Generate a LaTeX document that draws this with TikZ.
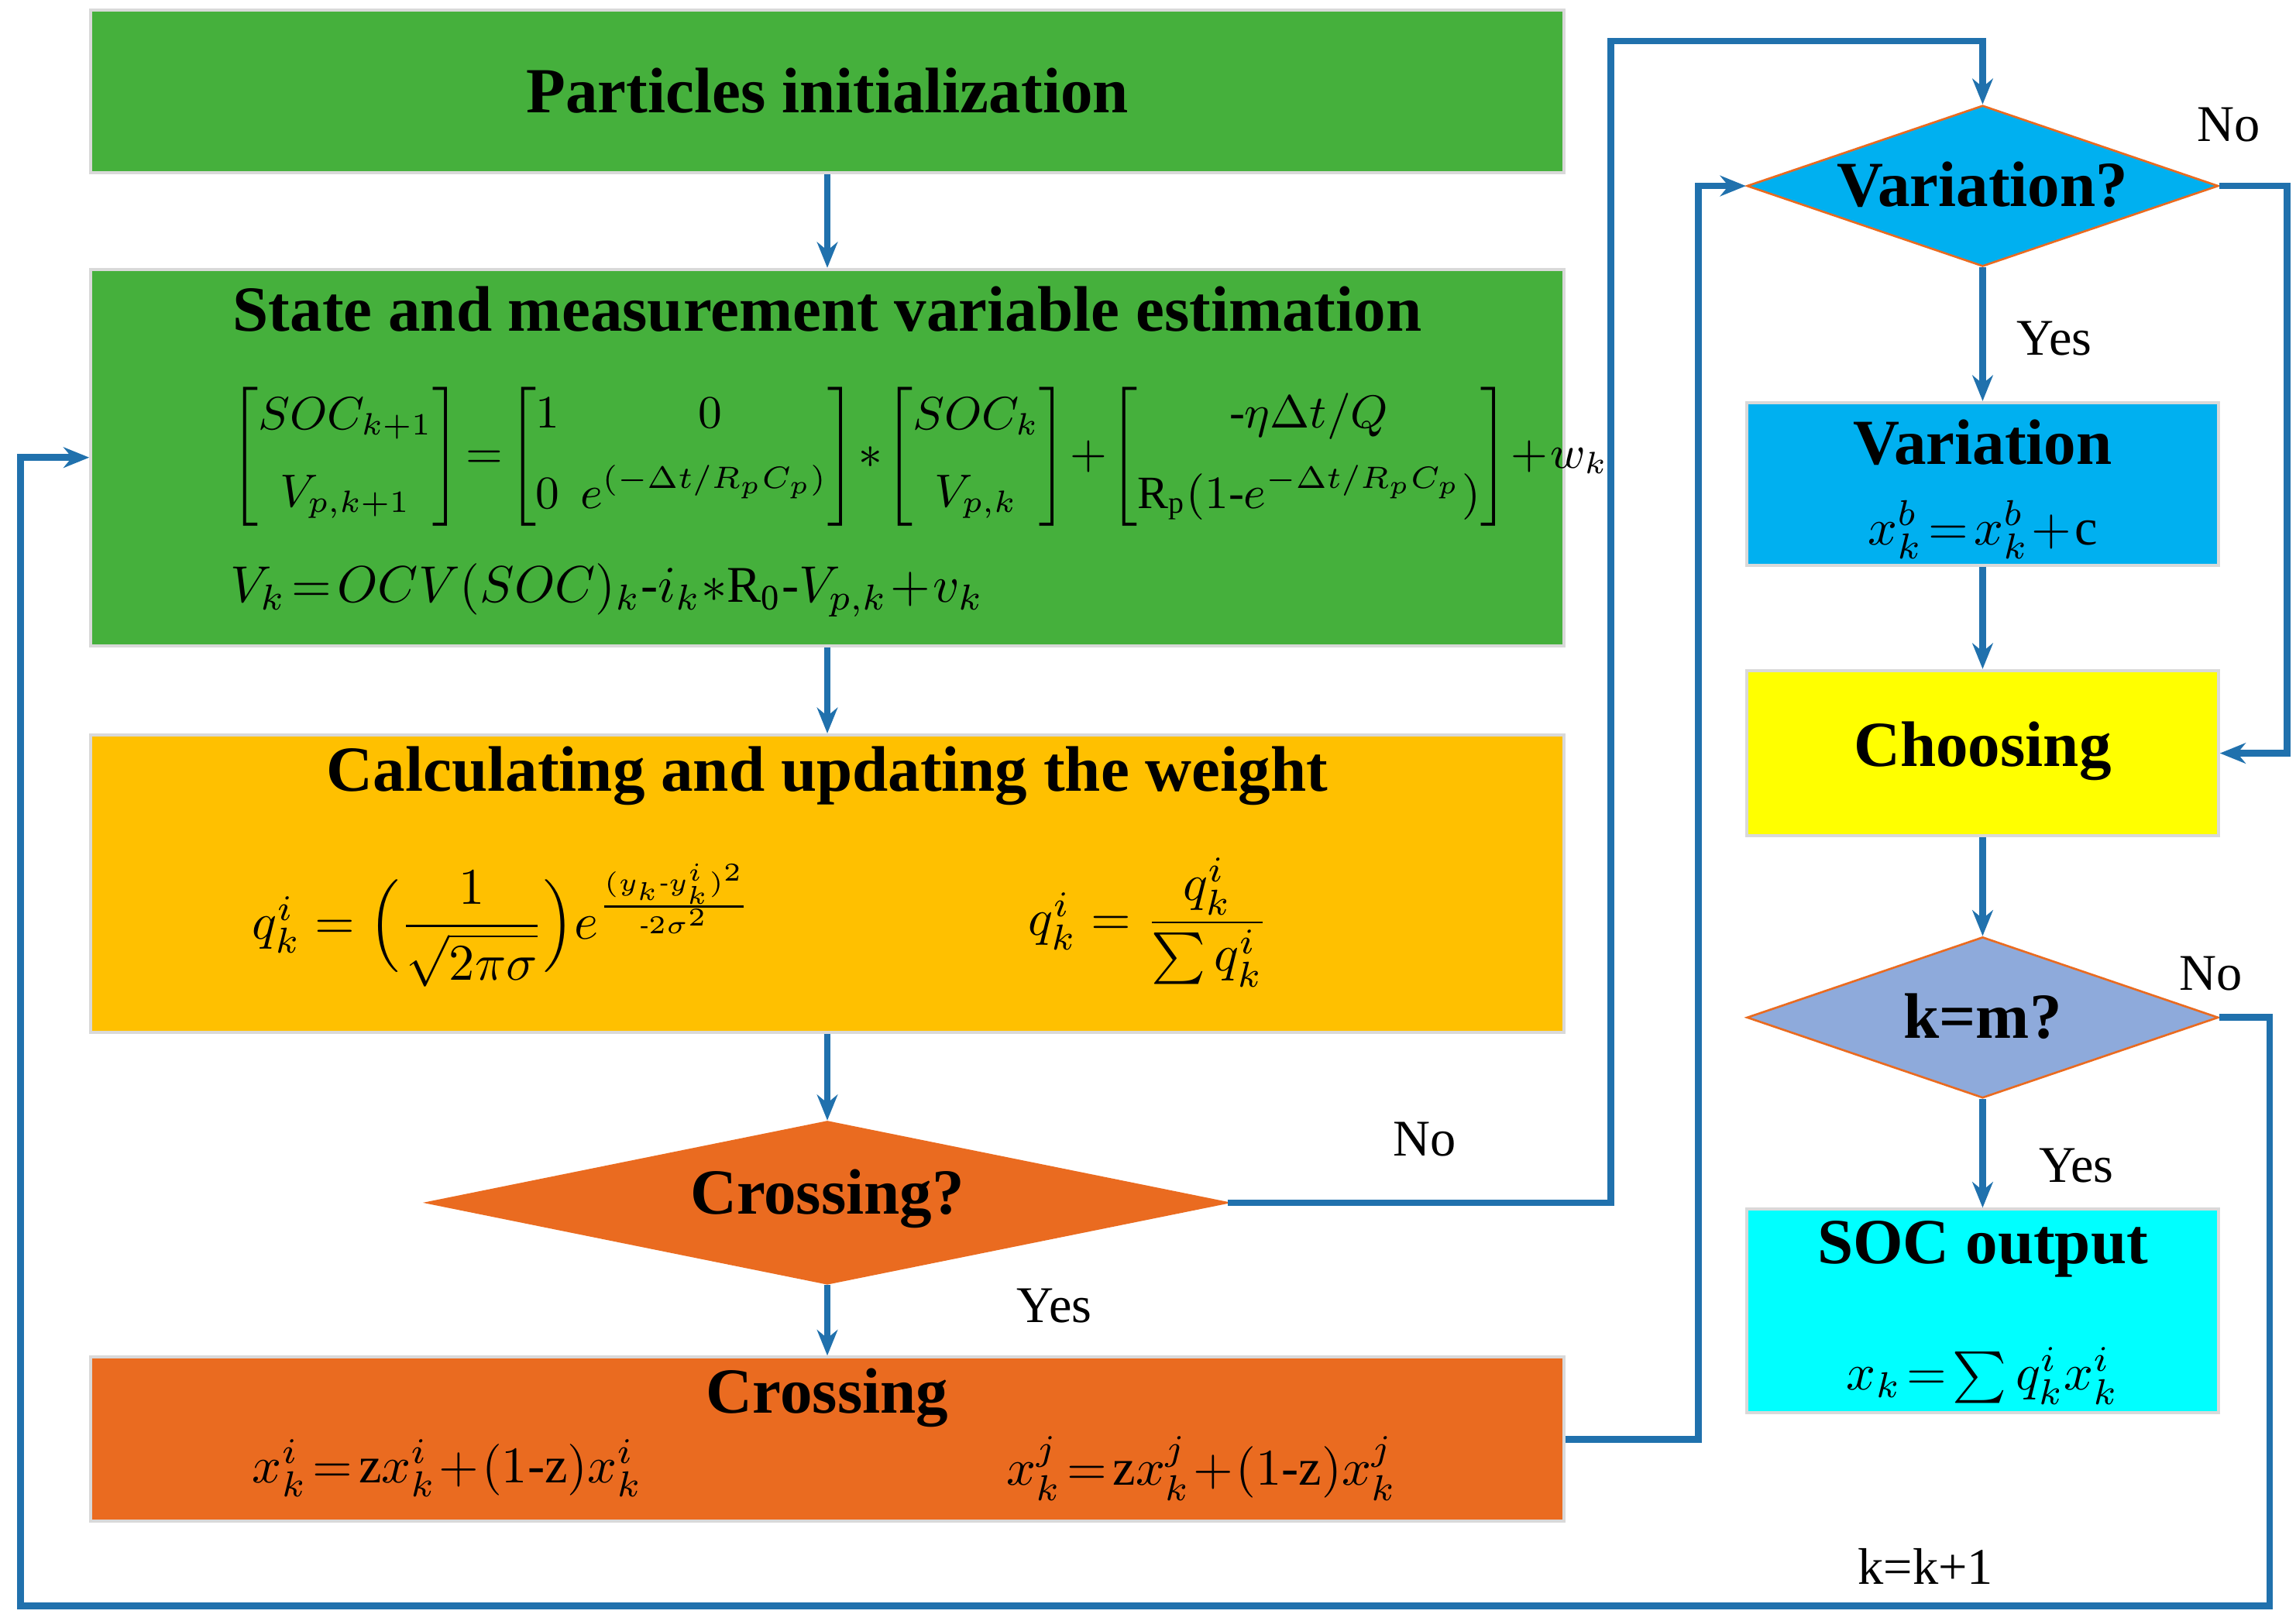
\documentclass[tikz,border=0pt]{standalone}
\usepackage{amsmath}
\usepackage{fontspec}
\setmainfont{Liberation Serif}
\usetikzlibrary{shapes.geometric,arrows.meta}
\definecolor{grn}{HTML}{45B03C}
\definecolor{org}{HTML}{FFC000}
\definecolor{rust}{HTML}{EA6B20}
\definecolor{sky}{HTML}{00B0F0}
\definecolor{lav}{HTML}{8EAADB}
\definecolor{ylw}{HTML}{FFFF00}
\definecolor{cyn}{HTML}{00FFFF}
\definecolor{arr}{HTML}{2071AD}
\begin{document}
\begin{tikzpicture}[x=0.1mm,y=-0.1mm,
 box/.style={draw=black!15,line width=0.6pt,inner sep=0pt},
 dia/.style={diamond,draw=rust,line width=0.4pt,inner sep=0pt,aspect=2.9},
 ttl/.style={font=\fontsize{12.5}{14}\selectfont\bfseries},
 eq/.style={font=\fontsize{10}{12}\selectfont},
 eqs/.style={font=\fontsize{9}{11}\selectfont},
 lab/.style={font=\fontsize{10}{12}\selectfont},
 con/.style={draw=arr,line width=1.3pt},
 ar/.style={con,-{Stealth[length=5pt,width=4pt]}}]
\useasboundingbox (0,0) rectangle (1568,1107);
% boxes
\node[box,fill=grn,minimum width=100.6mm,minimum height=11.1mm] (b1) at (565,62.5) {};
\node[ttl] at (565,62) {Particles initialization};
\node[box,fill=grn,minimum width=100.6mm,minimum height=25.7mm] (b2) at (565,312.5) {};
\node[ttl] at (565,211) {State and measurement variable estimation};
\node[eqs,anchor=west] at (145,312) {\setlength\arraycolsep{2pt}$\begin{bmatrix} SOC_{k+1}\\[4pt] V_{p,k+1}\end{bmatrix}\!=\!\begin{bmatrix}1 & \ 0\\[4pt] 0 & e^{(-\Delta t/R_pC_p)}\end{bmatrix}\!*\!\begin{bmatrix}SOC_k\\[4pt] V_{p,k}\end{bmatrix}\!+\!\begin{bmatrix}\text{-}\eta\Delta t/Q\\[4pt] \mathrm{R_p}(1\text{-}e^{-\Delta t/R_pC_p})\end{bmatrix}\!+\!w_k$};
\node[eq,anchor=west] at (145,403) {$V_k\!=\!OCV(SOC)_k\text{-}i_k{*}\mathrm{R_0}\text{-}V_{p,k}\!+\!v_k$};
\node[box,fill=org,minimum width=100.6mm,minimum height=20.3mm] (b3) at (565,603.5) {};
\node[ttl] at (565,530) {Calculating and updating the weight};
\node[eq,anchor=west] at (160,632) {$q_k^i=\Big(\dfrac{1}{\sqrt{2\pi\sigma}}\Big)e^{\frac{(y_k\text{-}y_k^i)^2}{\text{-}2\sigma^2}}$};
\node[eq,anchor=west] at (690,630) {$q_k^i=\dfrac{q_k^i}{\sum q_k^i}$};
\node[dia,fill=rust,minimum width=54.6mm,minimum height=11.1mm] (d1) at (565,821.5) {};
\node[ttl] at (565,819) {Crossing?};
\node[box,fill=rust,minimum width=100.6mm,minimum height=11.2mm] (b4) at (565,983) {};
\node[ttl] at (565,955) {Crossing};
\node[eq,anchor=west] at (160,1003) {$x_k^i\!=\!\mathrm{z}x_k^i\!+\!(1\text{-}\mathrm{z})x_k^i$};
\node[eq,anchor=west] at (675,1003) {$x_k^j\!=\!\mathrm{z}x_k^j\!+\!(1\text{-}\mathrm{z})x_k^j$};
% right column
\node[dia,fill=sky,minimum width=32.2mm,minimum height=11mm] (d2) at (1354,127) {};
\node[ttl] at (1354,126) {Variation?};
\node[box,fill=sky,minimum width=32.2mm,minimum height=11.1mm] (b5) at (1354,330.5) {};
\node[ttl] at (1354,302) {Variation};
\node[eq] at (1354,362) {$x_k^b\!=\!x_k^b\!+\!\mathrm{c}$};
\node[box,fill=ylw,minimum width=32.2mm,minimum height=11.3mm] (b6) at (1354,514.5) {};
\node[ttl] at (1354,513) {Choosing};
\node[dia,fill=lav,minimum width=32.2mm,minimum height=11mm] (d3) at (1354,695) {};
\node[ttl] at (1354,694) {k=m?};
\node[box,fill=cyn,minimum width=32.2mm,minimum height=13.9mm] (b7) at (1354,895.5) {};
\node[ttl] at (1354,853) {SOC output};
\node[eq] at (1354,940) {$x_k\!=\!\sum q_k^i x_k^i$};
% connectors
\draw[ar] (b1.south) -- (b2.north);
\draw[ar] (b2.south) -- (b3.north);
\draw[ar] (b3.south) -- (d1.north);
\draw[ar] (d1.south) -- (b4.north);
\coordinate (n1) at (1100,821.5); \coordinate (n2) at (1100,28);
\draw[ar] (d1.east) -- (n1) -- (n2) -| (d2.north);
\coordinate (c1) at (1160,983);
\draw[ar] (b4.east) -- (c1) |- (d2.west);
\coordinate (v1) at (1562,127);
\draw[ar] (d2.east) -- (v1) |- (b6.east);
\draw[ar] (d2.south) -- (b5.north);
\draw[ar] (b5.south) -- (b6.north);
\draw[ar] (b6.south) -- (d3.north);
\draw[ar] (d3.south) -- (b7.north);
\coordinate (k1) at (1550,695); \coordinate (k2) at (1550,1097); \coordinate (k3) at (14,1097);
\draw[ar] (d3.east) -- (k1) -- (k2) -- (k3) |- (b2.west);
% labels
\node[lab] at (973,778) {No};
\node[lab] at (720,892) {Yes};
\node[lab] at (1522,85) {No};
\node[lab] at (1403,231) {Yes};
\node[lab] at (1510,665) {No};
\node[lab] at (1418,796) {Yes};
\node[lab] at (1315,1070) {k=k+1};
\end{tikzpicture}
\end{document}
